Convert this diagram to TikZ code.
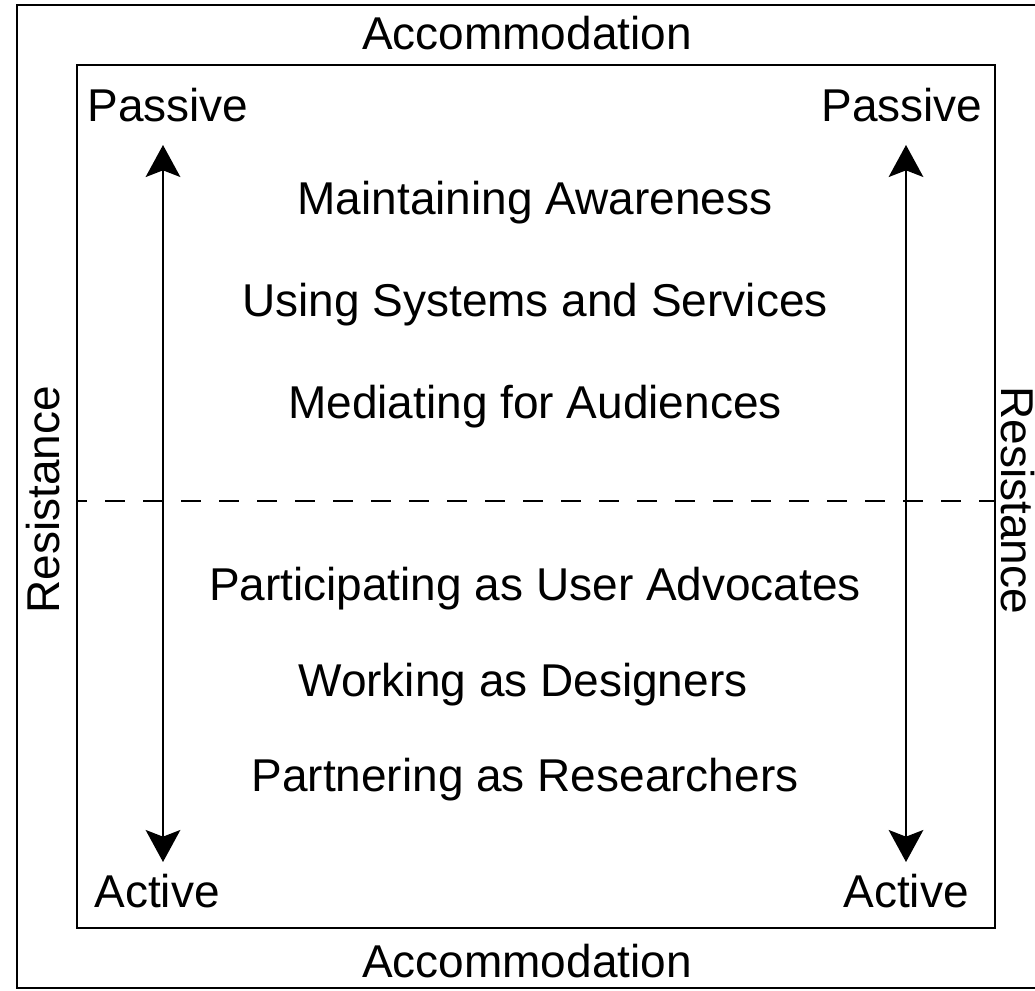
\documentclass[tikz,border=0pt]{standalone}
\usepackage{fontspec}
\setmainfont{Liberation Sans}
\usetikzlibrary{arrows.meta,positioning}

\begin{document}
\begin{tikzpicture}[x=0.75pt,y=0.75pt,yscale=-1,xscale=1,
    txt/.style={font=\fontsize{34.5}{40}\selectfont, inner sep=0pt, anchor=base},
    frame/.style={line width=2.2pt},
    scalearrow/.style={line width=1.5pt, {Stealth[length=24pt,width=26pt,inset=5pt]}-{Stealth[length=24pt,width=26pt,inset=5pt]}},
    divider/.style={line width=1.8pt, dash pattern={on 15pt off 13.5pt}, dash phase=7.5pt}]
    \useasboundingbox (0,0) rectangle (1035,991);
    \clip (0,0) rectangle (1035,991);

    %Shape: Rectangle, outer frame (runs off the right edge)
    \draw [frame] (17,5) rectangle (1050,988);
    %Shape: Rectangle, inner frame
    \draw [frame] (77,65) coordinate (inNW) rectangle (995,928) coordinate (inSE);

    %Straight Lines, dashed divider
    \coordinate (divW) at (77,501);
    \coordinate (divE) at (995,501);
    \draw [divider] (divW) -- (divE);

    %Straight Lines, left scale
    \coordinate (lUp) at (163,145);
    \coordinate (lDown) at (163,862);
    \draw [scalearrow] (lUp) -- (lDown);
    %Straight Lines, right scale
    \coordinate (rUp) at (906,145);
    \coordinate (rDown) at (906,862);
    \draw [scalearrow] (rUp) -- (rDown);

    % Text Node
    \draw (527,50) node (accTop) [txt] {Accommodation};
    % Text Node
    \draw (527,977) node (accBot) [txt] {Accommodation};
    % Text Node
    \draw (59,500) node (resLeft) [txt, rotate=90] {Resistance};
    % Text Node
    \draw (1001,500) node (resRight) [txt, rotate=-90] {Resistance};
    % Text Node
    \draw (168,122) node (passL) [txt] {Passive};
    % Text Node
    \draw (902,122) node (passR) [txt] {Passive};
    % Text Node
    \draw (157,907) node (actL) [txt] {Active};
    % Text Node
    \draw (906,907) node (actR) [txt] {Active};
    % Text Node
    \draw (535,215) node (aware) [txt] {Maintaining Awareness};
    % Text Node
    \draw (535,316) node (systems) [txt] {Using Systems and Services};
    % Text Node
    \draw (535,418) node (mediate) [txt] {Mediating for Audiences};
    % Text Node
    \draw (535,600) node (advocate) [txt] {Participating as User Advocates};
    % Text Node
    \draw (523,696) node (design) [txt] {Working as Designers};
    % Text Node
    \draw (525,791) node (research) [txt] {Partnering as Researchers};

\end{tikzpicture}
\end{document}
